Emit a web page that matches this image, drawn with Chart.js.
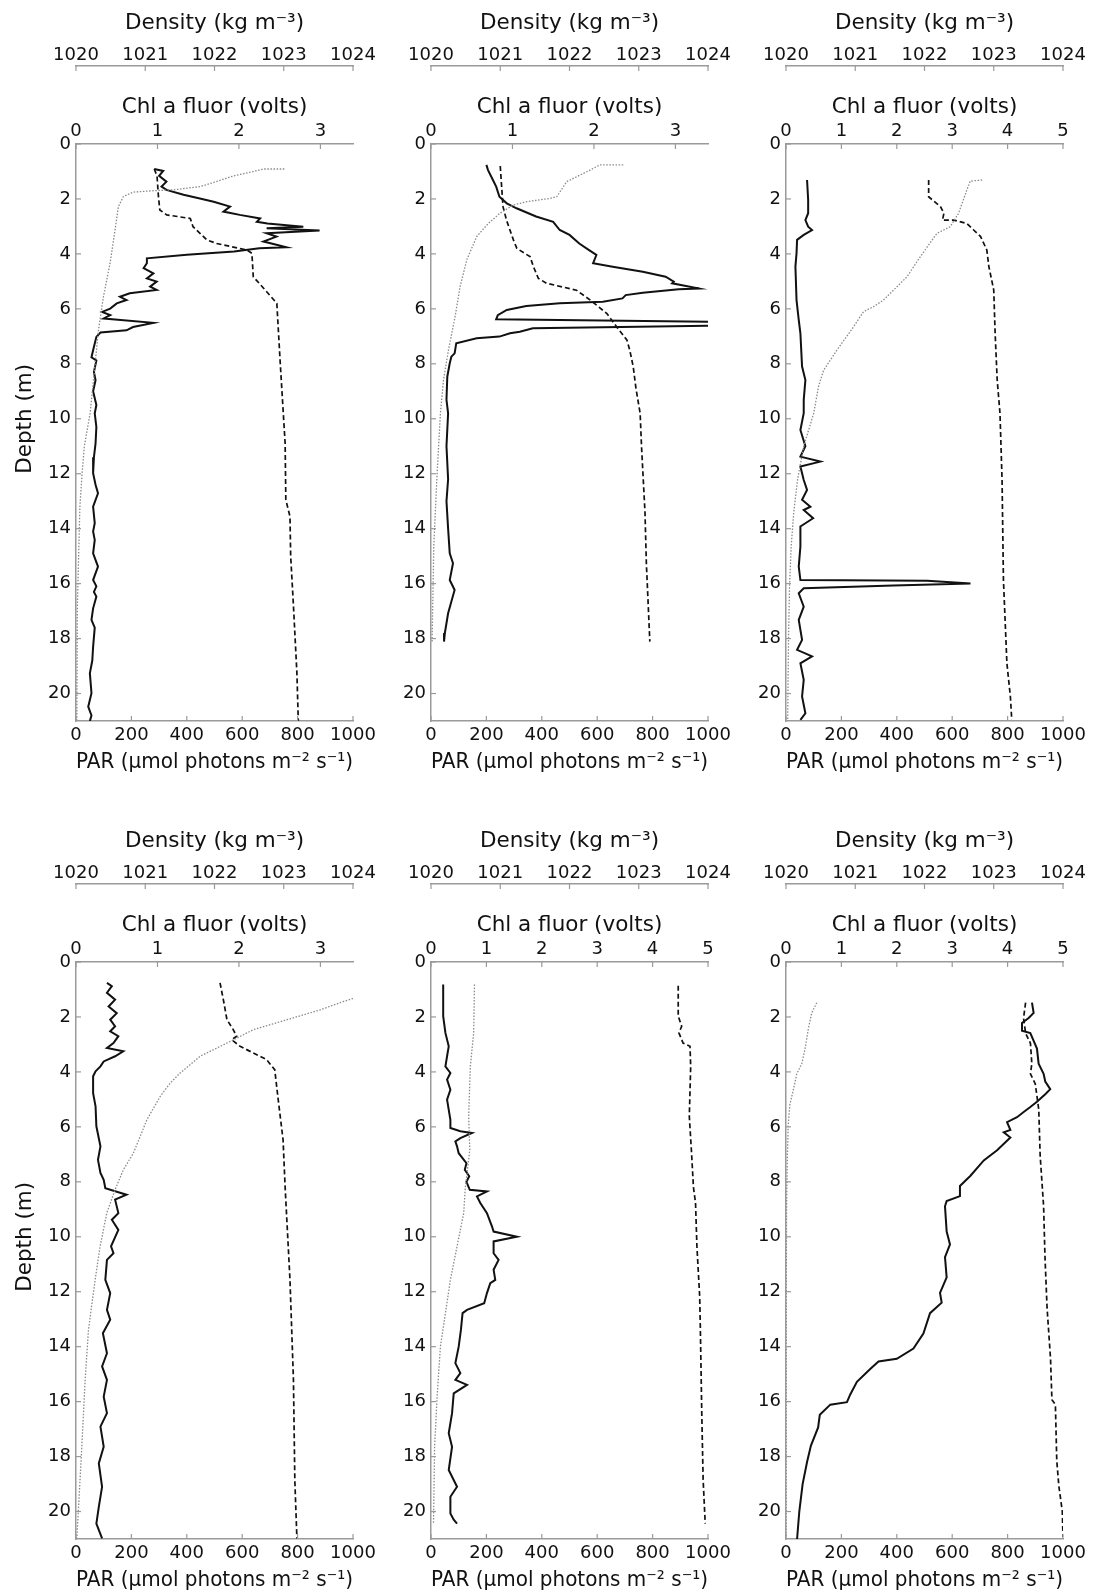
<!DOCTYPE html>
<html><head><meta charset="utf-8">
<script src="https://cdn.jsdelivr.net/npm/chart.js@4.4.1/dist/chart.umd.min.js"></script>
<style>
html,body{margin:0;padding:0;background:#fff;width:1095px;height:1596px;overflow:hidden;position:relative;}
canvas{position:absolute;}
</style></head><body>
<script>
// ---------- tick labels ----------
const densityTicks = [1020, 1021, 1022, 1023, 1024];
const chlTicks34 = [0, 1, 2, 3];
const chlTicks5 = [0, 1, 2, 3, 4, 5];
const parTicks = [0, 200, 400, 600, 800, 1000];
const depthTicks = [0, 2, 4, 6, 8, 10, 12, 14, 16, 18, 20];

// ---------- data: [value, depth (m)] ----------
// Panel 1
const p1Chl = [[0.96,0.91],[1.07,0.98],[1.02,1.16],[1.11,1.37],[1.05,1.55],[1.11,1.67],[1.32,1.85],[1.52,1.98],[1.69,2.1],[1.89,2.28],[1.81,2.46],[2.01,2.58],[2.26,2.71],[2.22,2.83],[2.35,2.89],[2.79,3.01],[2.34,3.07],[2.99,3.15],[2.34,3.25],[2.46,3.37],[2.30,3.55],[2.46,3.67],[2.58,3.76],[2.25,3.79],[1.94,3.91],[1.36,4.03],[0.87,4.16],[0.87,4.34],[0.83,4.52],[0.95,4.71],[0.87,4.89],[0.99,5.01],[0.91,5.19],[0.99,5.31],[0.66,5.43],[0.54,5.56],[0.62,5.68],[0.50,5.8],[0.42,5.99],[0.32,6.11],[0.42,6.23],[0.34,6.35],[0.95,6.51],[0.70,6.66],[0.62,6.78],[0.30,6.86],[0.25,7.02],[0.21,7.51],[0.19,7.76],[0.25,7.88],[0.22,8.3],[0.24,8.6],[0.21,9.0],[0.25,9.5],[0.23,9.8],[0.25,10.3],[0.24,10.9],[0.22,11.4],[0.21,11.98],[0.24,12.4],[0.27,12.71],[0.21,13.2],[0.23,13.8],[0.21,14.1],[0.23,14.41],[0.21,14.9],[0.27,15.38],[0.21,15.87],[0.25,16.1],[0.22,16.3],[0.25,16.47],[0.21,16.9],[0.19,17.32],[0.23,17.6],[0.21,18.3],[0.20,18.8],[0.17,19.26],[0.19,19.99],[0.15,20.48],[0.19,20.8],[0.17,21.0]];
const p1Den = [[1021.13,0.91],[1021.17,1.16],[1021.19,1.9],[1021.21,2.4],[1021.31,2.58],[1021.65,2.71],[1021.69,3.01],[1021.89,3.49],[1022.03,3.62],[1022.47,3.86],[1022.54,3.98],[1022.56,4.83],[1022.73,5.31],[1022.9,5.8],[1022.95,8.0],[1023.02,10.9],[1023.03,12.95],[1023.09,13.56],[1023.10,15.0],[1023.14,16.8],[1023.19,19.26],[1023.21,21.0]];
const p1Par = [[752,0.91],[677,0.91],[641,1.0],[569,1.16],[497,1.4],[448,1.55],[352,1.67],[280,1.7],[207,1.75],[171,1.91],[153,2.28],[141,3.13],[123,4.34],[99,5.56],[81,6.78],[69,8.0],[51,9.8],[30,11.0],[22,12.0],[14,13.2],[5,16.8],[3,21.0]];
// Panel 2
const p2Chl = [[0.68,0.76],[0.70,0.95],[0.76,1.31],[0.80,1.55],[0.84,1.92],[0.93,2.16],[1.05,2.34],[1.29,2.64],[1.50,2.83],[1.58,3.13],[1.70,3.31],[1.82,3.62],[1.94,3.86],[2.03,4.04],[1.99,4.34],[2.23,4.47],[2.60,4.65],[2.88,4.83],[2.98,5.01],[2.96,5.07],[3.29,5.26],[3.04,5.29],[2.60,5.41],[2.39,5.5],[2.35,5.62],[2.11,5.74],[1.58,5.8],[1.17,5.9],[0.93,6.04],[0.82,6.23],[0.80,6.38],[5.0,6.52],[5.0,6.55],[1.25,6.71],[1.09,6.83],[0.97,6.89],[0.84,7.01],[0.56,7.07],[0.31,7.25],[0.29,7.62],[0.25,7.74],[0.23,7.98],[0.20,8.47],[0.19,9.31],[0.21,9.8],[0.19,11.0],[0.21,12.2],[0.19,13.0],[0.21,14.0],[0.23,14.9],[0.27,15.26],[0.23,15.87],[0.29,16.23],[0.21,17.08],[0.17,17.8],[0.16,18.11]];
const p2Den = [[1021.0,0.8],[1021.02,1.55],[1021.04,2.28],[1021.09,2.77],[1021.19,3.49],[1021.24,3.8],[1021.43,4.1],[1021.48,4.47],[1021.55,4.89],[1021.67,5.07],[1022.1,5.32],[1022.3,5.68],[1022.54,6.17],[1022.68,6.65],[1022.83,7.14],[1022.87,7.5],[1022.92,8.1],[1022.96,8.9],[1023.02,9.8],[1023.04,11.0],[1023.09,13.4],[1023.11,15.26],[1023.16,18.11]];
const p2Par = [[694,0.76],[610,0.76],[574,0.95],[490,1.37],[454,1.92],[430,1.98],[345,2.1],[297,2.22],[249,2.52],[207,2.89],[165,3.37],[129,4.22],[105,5.19],[87,6.28],[63,7.5],[45,8.6],[34,9.8],[21,12.2],[10,14.65],[4,18.11]];
// Panel 3
const p3Chl = [[0.38,1.31],[0.40,2.04],[0.40,2.52],[0.35,2.77],[0.40,3.01],[0.47,3.13],[0.32,3.31],[0.20,3.49],[0.19,3.98],[0.17,4.46],[0.19,5.68],[0.23,6.4],[0.26,6.89],[0.29,8.1],[0.35,8.59],[0.32,9.31],[0.32,9.8],[0.26,10.41],[0.35,11.0],[0.26,11.38],[0.62,11.56],[0.26,11.74],[0.32,12.23],[0.38,12.59],[0.29,12.95],[0.44,13.2],[0.32,13.32],[0.49,13.62],[0.26,13.92],[0.26,14.65],[0.23,15.38],[0.26,15.87],[2.55,15.9],[3.33,16.0],[1.94,16.07],[0.32,16.17],[0.23,16.35],[0.32,16.84],[0.23,17.32],[0.29,18.05],[0.20,18.41],[0.47,18.65],[0.26,18.9],[0.32,19.5],[0.29,20.11],[0.35,20.72],[0.26,20.96]];
const p3Den = [[1022.06,1.31],[1022.06,1.92],[1022.23,2.28],[1022.28,2.52],[1022.26,2.77],[1022.42,2.77],[1022.61,2.89],[1022.71,3.13],[1022.81,3.37],[1022.90,3.86],[1022.93,4.47],[1022.97,4.95],[1023.0,5.32],[1023.02,6.89],[1023.05,8.6],[1023.09,9.8],[1023.12,12.23],[1023.14,15.87],[1023.19,18.9],[1023.24,20.11],[1023.26,20.96]];
const p3Par = [[708,1.31],[665,1.35],[653,1.67],[623,2.52],[593,3.01],[545,3.25],[485,4.1],[437,4.83],[352,5.68],[316,5.92],[280,6.1],[244,6.65],[184,7.5],[136,8.23],[118,8.8],[100,9.8],[64,11.0],[42,12.2],[28,13.4],[19,14.6],[13,16.0],[9,18.0],[6,21.0]];
// Panel 4
const p4Chl = [[0.38,0.76],[0.44,0.88],[0.38,1.12],[0.48,1.37],[0.40,1.62],[0.50,1.86],[0.42,2.1],[0.48,2.34],[0.42,2.52],[0.52,2.7],[0.46,2.95],[0.38,3.13],[0.58,3.25],[0.48,3.43],[0.34,3.62],[0.30,3.8],[0.24,3.98],[0.21,4.16],[0.21,4.77],[0.24,5.25],[0.25,5.98],[0.30,6.71],[0.27,7.2],[0.30,7.68],[0.34,7.93],[0.36,8.23],[0.62,8.47],[0.48,8.65],[0.52,9.14],[0.44,9.38],[0.52,9.75],[0.43,10.35],[0.46,10.6],[0.38,10.84],[0.36,11.57],[0.42,12.05],[0.38,12.66],[0.42,13.02],[0.33,13.51],[0.38,14.24],[0.32,14.72],[0.38,15.21],[0.34,15.82],[0.38,16.42],[0.30,16.91],[0.34,17.64],[0.28,18.25],[0.32,19.1],[0.28,19.83],[0.25,20.44],[0.32,20.98]];
const p4Den = [[1022.08,0.76],[1022.13,1.4],[1022.18,2.1],[1022.27,2.46],[1022.32,2.7],[1022.25,2.83],[1022.37,3.07],[1022.56,3.31],[1022.75,3.55],[1022.87,3.92],[1022.92,5.01],[1022.99,6.47],[1023.02,8.2],[1023.09,11.57],[1023.14,15.21],[1023.16,18.86],[1023.19,20.98]];
const p4Par = [[1000,1.33],[967,1.43],[882,1.74],[762,2.1],[641,2.46],[569,2.83],[521,3.07],[448,3.43],[376,4.04],[340,4.41],[304,4.89],[256,5.74],[207,6.96],[171,7.56],[141,8.29],[111,9.14],[87,10.35],[69,11.57],[45,13.39],[33,15.21],[21,17.64],[8,20.07],[3,20.98]];
// Panel 5
const p5Chl = [[0.22,0.82],[0.22,1.97],[0.26,2.58],[0.32,3.07],[0.29,3.43],[0.26,3.8],[0.35,4.04],[0.29,4.28],[0.35,4.65],[0.29,5.01],[0.35,5.74],[0.35,6.04],[0.53,6.16],[0.74,6.22],[0.53,6.41],[0.44,6.53],[0.47,6.71],[0.50,6.96],[0.64,7.32],[0.61,7.56],[0.69,7.8],[0.64,8.0],[0.70,8.29],[1.01,8.35],[0.83,8.53],[0.89,8.77],[1.01,9.14],[1.10,9.62],[1.13,9.81],[1.55,10.0],[1.13,10.17],[1.13,10.6],[1.22,10.84],[1.13,11.2],[1.16,11.57],[1.07,11.69],[1.01,12.05],[0.96,12.42],[0.65,12.66],[0.57,12.78],[0.54,13.39],[0.50,14.0],[0.44,14.6],[0.53,14.96],[0.44,15.21],[0.65,15.39],[0.41,15.7],[0.38,16.42],[0.32,17.15],[0.38,17.64],[0.32,18.49],[0.47,19.1],[0.35,19.46],[0.35,20.07],[0.41,20.3],[0.47,20.44]];
const p5Den = [[1023.57,0.86],[1023.57,1.97],[1023.62,2.34],[1023.58,2.58],[1023.64,2.95],[1023.74,3.07],[1023.75,3.8],[1023.73,5.62],[1023.76,6.84],[1023.79,8.2],[1023.82,8.77],[1023.84,10.35],[1023.88,12.17],[1023.89,13.39],[1023.91,16.42],[1023.93,18.86],[1023.96,20.44]];
const p5Par = [[157,0.82],[154,2.58],[142,3.8],[136,5.62],[140,6.84],[133,7.44],[124,8.2],[118,9.14],[94,10.35],[70,11.57],[52,12.78],[34,14.0],[22,15.82],[13,17.64],[9,20.44]];
// Panel 6
const p6Chl = [[4.44,1.48],[4.47,1.85],[4.38,2.04],[4.26,2.22],[4.26,2.5],[4.41,2.59],[4.53,3.15],[4.56,3.7],[4.65,4.07],[4.68,4.35],[4.77,4.63],[4.68,4.81],[4.53,5.09],[4.41,5.28],[4.29,5.46],[4.17,5.65],[3.99,5.83],[4.05,6.11],[3.93,6.2],[4.05,6.39],[3.81,6.85],[3.57,7.22],[3.33,7.78],[3.14,8.15],[3.14,8.52],[2.90,8.7],[2.87,8.89],[2.90,9.81],[2.96,10.28],[2.87,10.74],[2.90,11.48],[2.78,12.04],[2.81,12.4],[2.60,12.78],[2.48,13.52],[2.30,14.07],[2.0,14.44],[1.67,14.54],[1.52,14.81],[1.28,15.28],[1.16,15.74],[1.10,16.02],[0.80,16.11],[0.61,16.48],[0.58,16.94],[0.45,17.6],[0.38,18.2],[0.30,19.0],[0.24,20.0],[0.20,21.0]];
const p6Den = [[1023.46,1.48],[1023.43,2.04],[1023.46,2.59],[1023.53,2.96],[1023.55,3.7],[1023.53,4.07],[1023.6,4.44],[1023.62,4.81],[1023.65,5.37],[1023.67,7.04],[1023.72,8.89],[1023.74,10.74],[1023.77,12.59],[1023.82,14.44],[1023.84,15.93],[1023.89,16.11],[1023.91,18.15],[1023.94,19.07],[1023.99,20.0],[1024.0,20.93]];
const p6Par = [[111,1.48],[93,1.85],[81,2.41],[69,3.15],[57,3.7],[39,4.07],[27,4.63],[14,5.19],[8,5.93],[5,7.04],[2,8.89],[1,12.6],[0.5,20.9]];

// ---------- layout / style ----------
const FONT = "'DejaVu Sans', sans-serif";
const TEXT = '#111';
const AXIS = '#9a9a9a';
Chart.defaults.font.family = FONT;
Chart.defaults.color = TEXT;

const CAN_W = 383, CAN_H = 778;
const colLeft = [0, 355, 710];
const rowTop = [0, 818];

const panels = [
  {chl: p1Chl, den: p1Den, par: p1Par, chlMax: 3.4, chlTicks: chlTicks34, depthTitle: true},
  {chl: p2Chl, den: p2Den, par: p2Par, chlMax: 3.4, chlTicks: chlTicks34, depthTitle: false},
  {chl: p3Chl, den: p3Den, par: p3Par, chlMax: 5, chlTicks: chlTicks5, depthTitle: false},
  {chl: p4Chl, den: p4Den, par: p4Par, chlMax: 3.4, chlTicks: chlTicks34, depthTitle: true},
  {chl: p5Chl, den: p5Den, par: p5Par, chlMax: 5, chlTicks: chlTicks5, depthTitle: false},
  {chl: p6Chl, den: p6Den, par: p6Par, chlMax: 5, chlTicks: chlTicks5, depthTitle: false}
];

const tickFont = {family: FONT, size: 18};
const titleFont = {family: FONT, size: 21.5};

const inwardTicks = {
  id: 'inwardTicks',
  afterDraw(chart) {
    const ctx = chart.ctx, ca = chart.chartArea, L = 5;
    ctx.save();
    ctx.strokeStyle = AXIS;
    ctx.lineWidth = 1.2;
    for (const id of ['xDen', 'xChl', 'xPar', 'y']) {
      const s = chart.scales[id];
      s.ticks.forEach(t => {
        const p = s.getPixelForValue(t.value);
        ctx.beginPath();
        if (id === 'xDen') { ctx.moveTo(p, s.bottom); ctx.lineTo(p, s.bottom + L); }
        else if (id === 'xChl') { ctx.moveTo(p, ca.top); ctx.lineTo(p, ca.top + L); }
        else if (id === 'xPar') { ctx.moveTo(p, ca.bottom); ctx.lineTo(p, ca.bottom - L); }
        else { ctx.moveTo(ca.left, p); ctx.lineTo(ca.left + L, p); }
        ctx.stroke();
      });
    }
    ctx.restore();
  }
};

function pts(arr) { return arr.map(([x, y]) => ({x, y})); }
function setTicks(list) { return s => { s.ticks = list.map(v => ({value: v})); }; }
function baseAxis(extra) {
  return Object.assign({
    type: 'linear',
    grid: {display: false, drawTicks: false},
    border: {display: true, color: AXIS, width: 1.5},
  }, extra);
}

panels.forEach((pn, i) => {
  const cv = document.createElement('canvas');
  cv.width = CAN_W; cv.height = CAN_H;
  cv.style.left = colLeft[i % 3] + 'px';
  cv.style.top = rowTop[Math.floor(i / 3)] + 'px';
  cv.style.width = CAN_W + 'px'; cv.style.height = CAN_H + 'px';
  document.body.appendChild(cv);

  new Chart(cv.getContext('2d'), {
    type: 'scatter',
    data: {
      datasets: [
        {label: 'PAR', data: pts(pn.par), xAxisID: 'xPar', yAxisID: 'y', showLine: true,
         borderColor: '#8a8a8a', borderWidth: 1.3, borderDash: [1.5, 1.6], pointRadius: 0, tension: 0},
        {label: 'Density', data: pts(pn.den), xAxisID: 'xDen', yAxisID: 'y', showLine: true,
         borderColor: '#111', borderWidth: 1.7, borderDash: [5, 3], pointRadius: 0, tension: 0},
        {label: 'Chl a fluor', data: pts(pn.chl), xAxisID: 'xChl', yAxisID: 'y', showLine: true,
         borderColor: '#111', borderWidth: 2, pointRadius: 0, tension: 0}
      ]
    },
    options: {
      responsive: false, animation: false, devicePixelRatio: 1,
      layout: {padding: {left: 0, top: 0, right: CAN_W - 353, bottom: 0}},
      plugins: {legend: {display: false}, tooltip: {enabled: false}},
      events: [],
      scales: {
        y: baseAxis({
          position: 'left', reverse: true, min: 0, max: 21,
          afterBuildTicks: setTicks(depthTicks),
          afterFit: s => { s.width = 76; },
          ticks: {font: tickFont, color: TEXT, padding: 5, autoSkip: false, callback: v => String(v)},
          title: {display: pn.depthTitle, text: '    Depth (m)', font: titleFont, color: TEXT, padding: {top: 12.6, bottom: 0}}
        }),
        xDen: baseAxis({
          position: 'top', min: 1020, max: 1024, weight: 2,
          afterBuildTicks: setTicks(densityTicks),
          afterFit: s => { s.height = 66; },
          ticks: {font: tickFont, color: TEXT, padding: 0, autoSkip: false, maxRotation: 0, minRotation: 0, callback: v => String(v)},
          title: {display: true, text: 'Density (kg m\u207B\u00B3)', font: titleFont, color: TEXT, padding: {top: 11, bottom: 0}}
        }),
        xChl: baseAxis({
          position: 'top', min: 0, max: pn.chlMax, weight: 1,
          afterBuildTicks: setTicks(pn.chlTicks),
          afterFit: s => { s.height = 78; },
          ticks: {font: tickFont, color: TEXT, padding: 2, autoSkip: false, maxRotation: 0, minRotation: 0, callback: v => String(v)},
          title: {display: true, text: 'Chl a fluor (volts)', font: titleFont, color: TEXT, padding: {top: 28.5, bottom: 0}}
        }),
        xPar: baseAxis({
          position: 'bottom', min: 0, max: 1000,
          afterBuildTicks: setTicks(parTicks),
          afterFit: s => { s.height = CAN_H - 721; },
          ticks: {font: tickFont, color: TEXT, padding: 4, autoSkip: false, maxRotation: 0, minRotation: 0, callback: v => String(v)},
          title: {display: true, text: 'PAR (\u00B5mol photons m\u207B\u00B2 s\u207B\u00B9)', font: titleFont, color: TEXT, padding: {top: 0, bottom: 2.6}}
        })
      }
    },
    plugins: [inwardTicks]
  });
});
</script>
</body></html>
